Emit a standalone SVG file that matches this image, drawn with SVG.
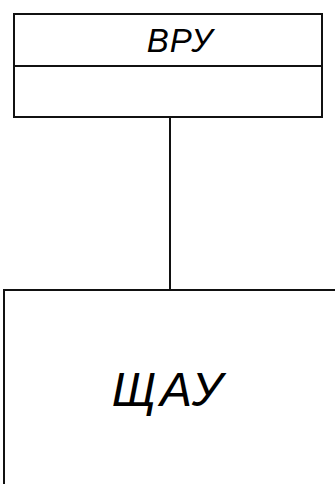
<svg xmlns="http://www.w3.org/2000/svg" width="335" height="484" viewBox="0 0 335 484">
<style>
.box{fill:#fff;stroke:#111;stroke-width:2}
.ln{stroke:#111;stroke-width:2;fill:none}
.t{font-family:"Liberation Sans",Arial,sans-serif;font-style:italic;fill:#000;text-anchor:middle}
</style>
<rect width="335" height="484" fill="#fff"/>
<g id="connectors">
<line class="ln" x1="170" y1="117" x2="170" y2="290"/>
</g>
<g id="vru">
<rect class="box" x="14" y="14" width="308" height="103"/>
<line class="ln" x1="14" y1="66" x2="322" y2="66"/>
<text class="t" x="180" y="52" font-size="33" letter-spacing="1">ВРУ</text>
</g>
<g id="shchau">
<path class="ln" d="M336 290 H4 V485"/>
<text class="t" x="169" y="406" font-size="48" letter-spacing="4">ЩАУ</text>
</g>
</svg>
